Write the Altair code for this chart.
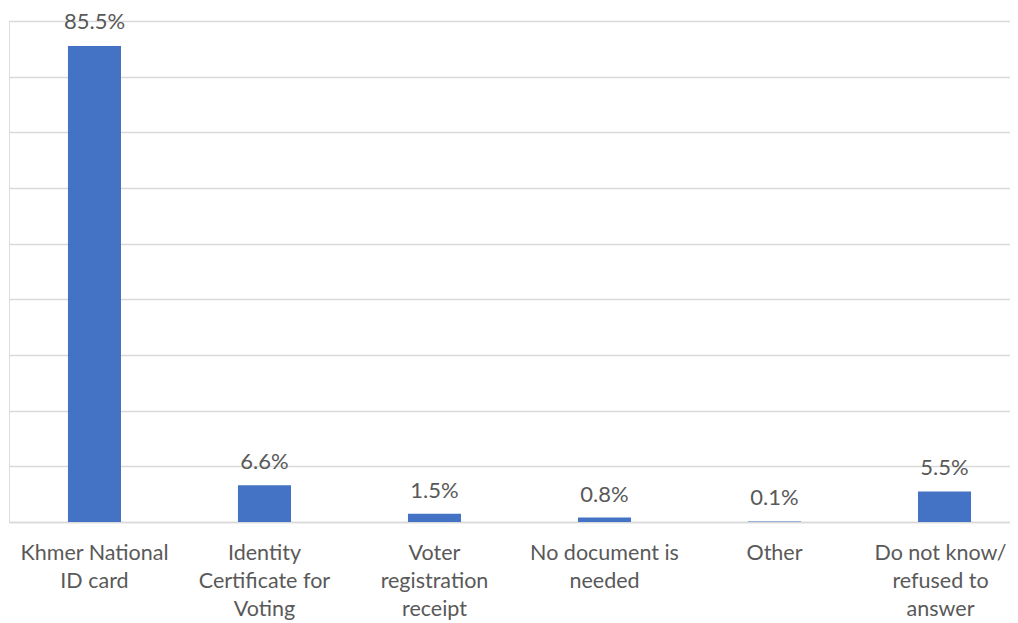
import altair as alt
import pandas as pd

categories = [
    "Khmer National|ID card",
    "Identity|Certificate for|Voting",
    "Voter|registration|receipt",
    "No document is|needed",
    "Other",
    "Do not know/|refused to|answer",
]
values = [85.5, 6.6, 1.5, 0.8, 0.1, 5.5]
labels = ["85.5%", "6.6%", "1.5%", "0.8%", "0.1%", "5.5%"]

df = pd.DataFrame({"cat": categories, "val": values, "lab": labels})

FONT = "Lato"
TXT = "#595959"

xscale = alt.Scale(paddingInner=0.688, paddingOuter=0.288, align=0.602)

x = alt.X(
    "cat:N",
    sort=categories,
    scale=xscale,
    axis=alt.Axis(
        title=None,
        labelExpr="split(datum.label, '|')",
        labelAngle=0,
        labelFont=FONT,
        labelFontSize=21.5,
        labelColor=TXT,
        labelLineHeight=28,
        labelPadding=20,
        labelOffset={
            "condition": {"test": "datum.value == '%s'" % categories[-1], "value": -4},
            "value": 0,
        },
        ticks=False,
        domainColor="#D9D9D9",
        domainWidth=1.5,
        labelLimit=300,
    ),
)
y = alt.Y(
    "val:Q",
    scale=alt.Scale(domain=[0, 90], nice=False),
    axis=alt.Axis(
        title=None,
        labels=False,
        ticks=False,
        domain=False,
        values=[0, 10, 20, 30, 40, 50, 60, 70, 80, 90],
        gridColor="#D9D9D9",
        gridWidth=1.5,
    ),
)

base = alt.Chart(df)
bars = base.mark_bar(color="#4472C4").encode(x=x, y=y)
xt = alt.X("cat:N", sort=categories)
text_low = base.transform_filter("datum.val < 80").mark_text(
    font=FONT, fontSize=22, color=TXT, baseline="alphabetic", dy=-16
).encode(x=xt, y="val:Q", text="lab:N")
text_top = base.transform_filter("datum.val >= 80").mark_text(
    font=FONT, fontSize=22, color=TXT, baseline="alphabetic", dy=-17
).encode(x=xt, y="val:Q", text="lab:N")

chart = (
    alt.layer(bars, text_low, text_top)
    .properties(
        width=1001,
        height=501,
        autosize=alt.AutoSizeParams(type="none"),
        padding={"left": 1, "top": 13, "right": 0, "bottom": 101},
    )
    .configure_view(stroke=None)
    .configure(background="white")
)

chart.save("out.html", embed_options={"renderer": "svg", "actions": False})
